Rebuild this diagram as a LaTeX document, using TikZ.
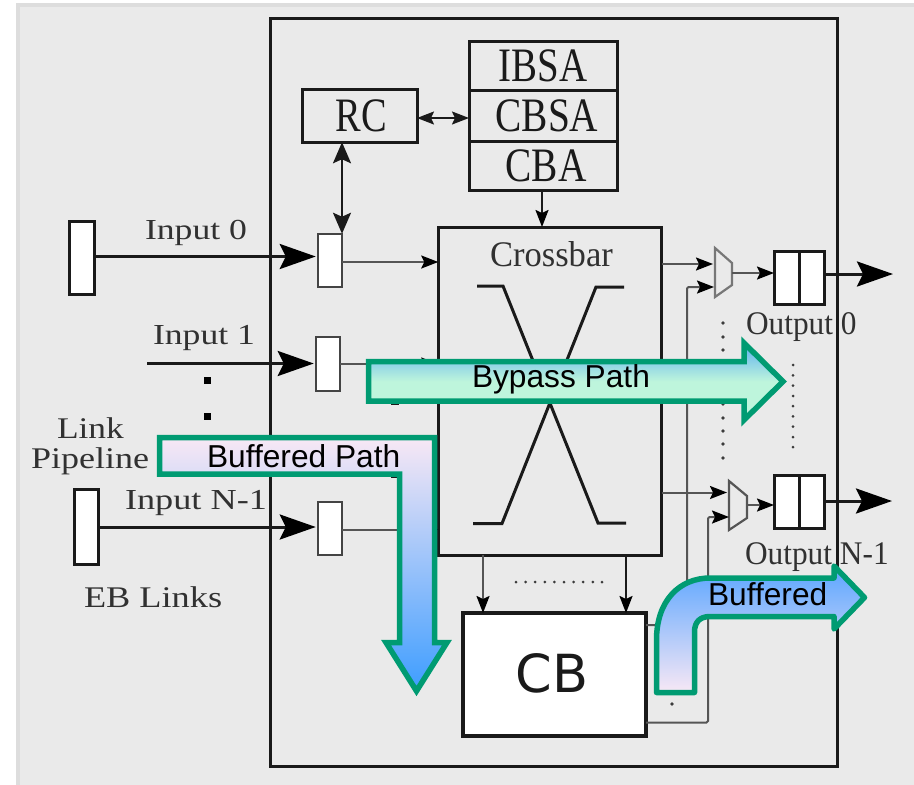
\documentclass[tikz,border=0pt]{standalone}
\usepackage{graphicx}
\usepackage{fontspec}
\setmainfont{Liberation Serif}
\newfontfamily\arialf{Liberation Sans}
\newfontfamily\dejaf{DejaVu Sans}
\usetikzlibrary{arrows.meta,calc}
\definecolor{bgc}{HTML}{EAEAEA}
\definecolor{edgec}{HTML}{DDDDDD}
\definecolor{ink}{HTML}{1A1A1A}
\definecolor{thin}{HTML}{555555}
\definecolor{band}{HTML}{009B72}
\definecolor{c1}{HTML}{5AAEF0}
\definecolor{c2}{HTML}{BEF5DC}
\definecolor{c3}{HTML}{F8E8F5}
\definecolor{c4}{HTML}{3D9DFF}
\definecolor{c5}{HTML}{5AA5FF}
\newcommand{\tx}[3]{\fontsize{#1}{#1}\selectfont\scalebox{#2}[1]{#3}}
\tikzset{
  blockbox/.style={draw=ink,line width=3pt,fill=white,inner sep=0pt,outer sep=0pt},
  latchbox/.style={draw=thin!80!black,line width=2.2pt,fill=white,inner sep=0pt,outer sep=0pt,minimum width=24.5pt,minimum height=53.5pt},
  opaquebox/.style={draw=ink,line width=3pt,inner sep=0pt,outer sep=0pt,text=ink},
  lab/.style={anchor=base west,inner sep=0pt,outer sep=0pt,text=ink!90!white},
  pathlab/.style={anchor=base west,inner sep=0pt,outer sep=0pt,text=black,font=\arialf\fontsize{31.7}{32}\selectfont},
  bigarrow/.style={draw=ink,line width=3pt,-{Stealth[length=36pt,width=25pt,inset=6pt,color=black,fill=black]}},
  midarrow/.style={draw=thin,line width=2pt,-{Stealth[length=17pt,width=13pt,inset=3pt,color=black,fill=black]}},
  dbl/.style={draw=ink,line width=1.8pt,{Stealth[length=17pt,width=13pt,inset=3pt]}-{Stealth[length=17pt,width=13pt,inset=3pt]}},
  dblbig/.style={draw=ink,line width=2.2pt,{Stealth[length=21pt,width=18pt,inset=4pt]}-{Stealth[length=21pt,width=18pt,inset=4pt]}},
  bandline/.style={draw=band,line width=5.5pt},
  dotmark/.style={fill=ink!85!white,draw=none,circle,inner sep=0pt,minimum size=3.6pt},
}
\begin{document}
\begin{tikzpicture}[x=1pt,y=-1pt]
\useasboundingbox (0,0) rectangle (914,785);
\fill[white] (0,0) rectangle (914,785);
\fill[edgec] (16,3) rectangle (914,785);
\fill[bgc] (20,7) rectangle (914,785);

% router outline
\node[opaquebox,minimum width=567pt,minimum height=748pt] (router) at (553.5,392) {};

% crossbar and its wires
\node[opaquebox,minimum width=223.5pt,minimum height=328pt] (xbar) at (550,391) {};
\draw[ink,line width=3pt] (477,286) -- (503,286) -- (598,523) -- (626,523);
\draw[ink,line width=3pt] (624,287) -- (596,287) -- (502,523.5) -- (473,523.5);

% inputs
\node[blockbox,minimum width=25pt,minimum height=73pt] (l0) at (81.5,257.5) {};
\node[blockbox,minimum width=24pt,minimum height=75pt] (l2) at (86,526.5) {};
\node[latchbox] (b0) at (330,260.5) {};
\node[latchbox] (b1) at (328,364) {};
\node[latchbox] (b2) at (330,528.5) {};
\coordinate (i1start) at (147,363.5);

% control blocks
\node[blockbox,fill=none,minimum width=115pt,minimum height=52.5pt,text=ink] (rc) at (359.5,116) {\hspace*{3pt}\tx{48}{0.8}{RC}};
\node[blockbox,fill=none,minimum width=148pt,minimum height=49pt,text=ink] (ibsa) at (543,65.5) {\tx{48}{0.81}{IBSA}};
\node[blockbox,fill=none,minimum width=148pt,minimum height=51pt,text=ink] (cbsa) at (543,115.5) {\hspace*{8pt}\tx{48}{0.82}{CBSA}};
\node[blockbox,fill=none,minimum width=148pt,minimum height=49pt,text=ink] (cba) at (543,165.5) {\hspace*{6pt}\tx{48}{0.82}{CBA}};

% central buffer
\node[blockbox,minimum width=183pt,minimum height=123pt,line width=3.5pt,text=ink] (cb) at (554.5,674.5) {\hspace*{-5pt}\raisebox{3pt}{\dejaf\tx{52.5}{1}{CB}}};

% output latches
\node[blockbox,minimum width=25pt,minimum height=53pt] (o0a) at (786.5,278) {};
\node[blockbox,minimum width=25pt,minimum height=53pt] (o0b) at (811.5,278) {};
\node[blockbox,minimum width=25pt,minimum height=53pt] (o2a) at (786.5,501.5) {};
\node[blockbox,minimum width=25pt,minimum height=53pt] (o2b) at (811.5,501.5) {};
\coordinate (o0out) at (893,274);
\coordinate (o2out) at (892,501);

% multiplexers
\draw[draw=thin!80!white,line width=2.2pt] (715,248) coordinate (m0a) -- (732,263) -- (732,285) -- (715,297) -- cycle;
\draw[draw=thin,line width=2.2pt] (729,481) coordinate (m2a) -- (747,496) -- (747,518) -- (729,530) -- cycle;
\coordinate (m0i1) at (713,264);
\coordinate (m0i2) at (714,287);
\coordinate (m0o) at (732,273);
\coordinate (m2i1) at (727,492.5);
\coordinate (m2i2) at (729,517);
\coordinate (m2o) at (747,505);
\coordinate (y0) at (0,262);
\coordinate (y2) at (0,529.5);
\coordinate (yrc) at (0,118);
\coordinate (xrc) at (342,0);
\coordinate (xcba) at (542,0);
\coordinate (xl) at (483,0);
\coordinate (xr) at (626,0);

% big arrows
\draw[bigarrow,shorten >=2pt] ([yshift=1pt]l0.east) -- ([yshift=4pt]b0.west);
\draw[bigarrow,shorten >=2pt] (i1start) -- (b1.west |- i1start);
\draw[bigarrow,shorten >=2pt] ([yshift=-0.5pt]l2.east) -- ([yshift=1.5pt]b2.west);
\draw[bigarrow] (o0b.east |- o0out) -- (o0out);
\draw[bigarrow] (o2b.east |- o2out) -- (o2out);

% thin connectors
\draw[midarrow] (b0.east |- y0) -- (xbar.west |- y0);
\draw[midarrow] (b1.east) -- (xbar.west |- b1.east);
\draw[midarrow] (b2.east |- y2) -- (xbar.west |- y2);
\draw[midarrow] (xbar.east |- m0i1) -- (m0i1);
\draw[midarrow] (xbar.east |- m2i1) -- (m2i1);
\draw[midarrow] (m0o) -- (o0a.west |- m0o);
\draw[midarrow] (m2o) -- (o2a.west |- m2o);
\draw[dbl] (rc.east |- yrc) -- (cbsa.west |- yrc);
\draw[dblbig] (rc.south -| xrc) -- (b0.north -| xrc);
\draw[midarrow,draw=ink] (cba.south -| xcba) -- (xbar.north -| xcba);
\draw[midarrow] (xbar.south -| xl) -- (cb.north -| xl);
\draw[midarrow,draw=ink] (xbar.south -| xr) -- (cb.north -| xr);
\draw[midarrow,rounded corners=1.5pt] ([yshift=49.5pt]cb.east) -- (687,625) -- (687,287) -- (m0i2);
\draw[midarrow,rounded corners=1.5pt] ([yshift=-48pt]cb.east) -- (708,722.5) -- (708,517) -- (m2i2);

% square dots
\fill[black] (203.5,376.5) rectangle +(7,7);
\fill[black] (203.5,412.5) rectangle +(7,7);
\fill[ink] (391,398) rectangle +(8,7);
\fill[ink] (391,471) rectangle +(8,7);

% dotted leaders
\foreach \y in {323,337,350,364,377,391,404,418,431,444,458} \node[dotmark] at (723,\y) {};
\foreach \y in {365,375.3,385.6,396,406,416.3,426.6,437,447} \node[dotmark,minimum size=3pt] at (793,\y) {};
\foreach \x in {516,525.6,535.2,544.8,554.4,564,573.6,583.2,592.8,602} \node[dotmark,minimum size=3pt] at (\x,582) {};
\node[dotmark] at (672,704) {};

% text labels
\node[lab] (t0) at (145,239) {\tx{29}{1.23}{Input 0}};
\node[lab] (t1) at (153,344) {\tx{29}{1.23}{Input 1}};
\node[lab] (t2) at (125,509) {\tx{29}{1.25}{Input N-1}};
\node[lab] (t3) at (57,438) {\tx{30}{1.18}{Link}};
\node[lab] (t4) at (31,468) {\tx{30}{1.2}{Pipeline}};
\node[lab] (t5) at (84,607) {\tx{30}{1.21}{EB Links}};
\node[lab] (t6) at (490,266) {\tx{36}{0.96}{Crossbar}};
\node[lab] (t7) at (746,334) {\tx{33}{0.95}{Output 0}};
\node[lab] (t8) at (745,564) {\tx{33}{0.95}{Output N-1}};

% highlighted paths
\path[bandline,miter limit=10,top color=c1,bottom color=c2,middle color=c2]
  (368.5,361.5) -- (744,361.5) -- (744,343) -- (783,381.5) -- (744,420) -- (744,401) -- (368.5,401) -- cycle;
\path[bandline,miter limit=10,top color=c3,bottom color=c4]
  (159.5,437.5) -- (434.5,437.5) -- (434.5,642.5) -- (447,642.5) -- (416.5,691) -- (386,642.5) -- (399.5,642.5) -- (399.5,474) -- (159.5,474) -- cycle;
\path[bandline,line join=round,top color=c5,bottom color=c3]
  (656.5,692.5) -- (656.5,640) .. controls (656.5,600) and (680,578) .. (710,578) -- (834,578) -- (834,566) -- (864.5,597.5) -- (834,629) -- (834,616.5) -- (710,616.5) .. controls (700,616.5) and (694.5,622) .. (694.5,632) -- (694.5,692.5) -- cycle;

\node[pathlab] (p1) at (472,387) {Bypass Path};
\node[pathlab] (p2) at (207,467) {Buffered Path};
\node[pathlab] (p3) at (708,605) {Buffered};
\end{tikzpicture}
\end{document}
